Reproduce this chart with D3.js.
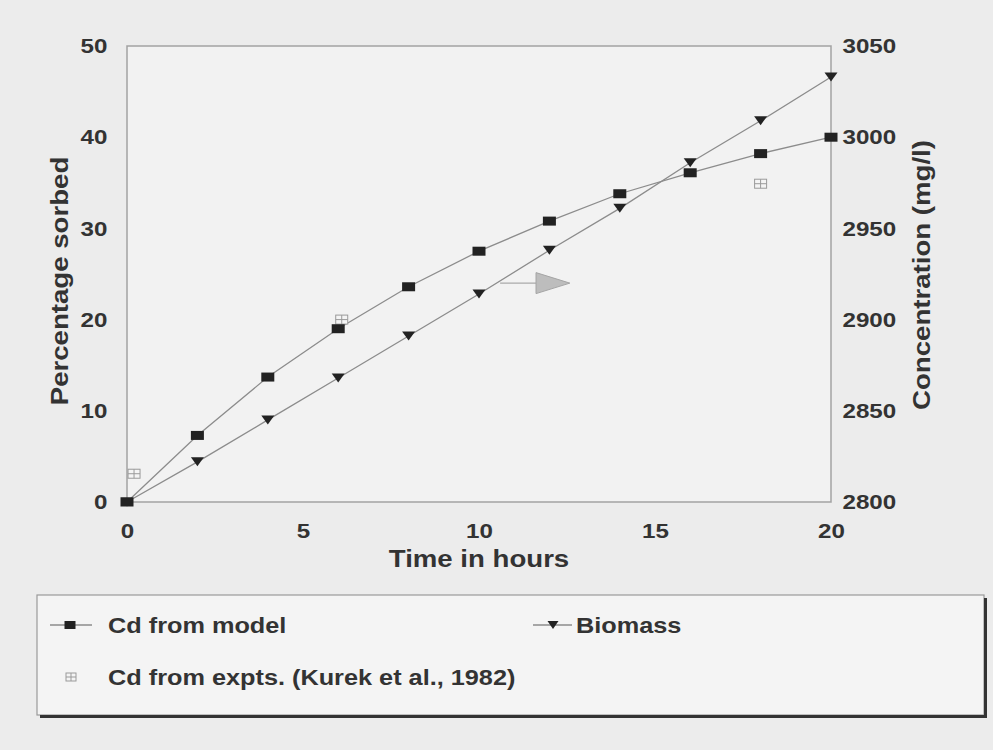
<!DOCTYPE html>
<html>
<head>
<meta charset="utf-8">
<script src="https://cdn.jsdelivr.net/npm/d3@7/dist/d3.min.js"></script>
<style>
  html, body { margin: 0; padding: 0; background: #ececec; }
  svg { display: block; }
  text { font-family: "Liberation Sans", Arial, sans-serif; font-weight: bold; fill: #333; }
</style>
</head>
<body>
<svg id="chart" width="993" height="750"></svg>
<script>
// ---- data ----
const hours = [0, 2, 4, 6, 8, 10, 12, 14, 16, 18, 20];
const cdModel = [0, 7.3, 13.7, 19.0, 23.6, 27.5, 30.8, 33.8, 36.1, 38.2, 40.0];      // % sorbed (left axis)
const biomass = [2800, 2822, 2845, 2868, 2891, 2914, 2938, 2961, 2986, 3009, 3033]; // mg/l (right axis)
const exptHours = [0.2, 6.1, 18.0];
const exptPct = [3.1, 20.0, 34.9];
const xTicks = [0, 5, 10, 15, 20];
const leftTicks = [0, 10, 20, 30, 40, 50];
const rightTicks = [2800, 2850, 2900, 2950, 3000, 3050];
const legendLabels = ["Cd from model", "Biomass", "Cd from expts. (Kurek et al., 1982)"];
const axisTitles = { x: "Time in hours", left: "Percentage sorbed", right: "Concentration (mg/l)" };

// ---- layout ----
const L = 127, R = 831, T = 46, B = 502;
const SX = 1.15; // horizontal stretch of the scanned lettering

const svg = d3.select("#chart");
const x = d3.scaleLinear().domain([0, 20]).range([L, R]);
const yL = d3.scaleLinear().domain([0, 50]).range([B, T]);
const yR = d3.scaleLinear().domain([2800, 3050]).range([B, T]);

// plot background + frame
svg.append("rect").attr("x", L).attr("y", T).attr("width", R - L).attr("height", B - T)
  .attr("fill", "#f2f2f2").attr("stroke", "#a2a2a2").attr("stroke-width", 1.5);

// axes
function styleAxis(g, fs) {
  g.select(".domain").remove();
  g.selectAll("text").attr("font-size", fs).attr("fill", "#333")
    .attr("font-family", "Liberation Sans, Arial, sans-serif").attr("font-weight", "bold")
    .attr("transform", `scale(${SX},1)`);
}
svg.append("g").attr("transform", `translate(${L},0)`)
  .call(d3.axisLeft(yL).tickValues(leftTicks).tickFormat(d3.format("d")).tickSize(0).tickPadding(17))
  .call(g => styleAxis(g, 21));
svg.append("g").attr("transform", `translate(${R},0)`)
  .call(d3.axisRight(yR).tickValues(rightTicks).tickFormat(d3.format("d")).tickSize(0).tickPadding(10))
  .call(g => styleAxis(g, 21));
svg.append("g").attr("transform", `translate(0,${B})`)
  .call(d3.axisBottom(x).tickValues(xTicks).tickFormat(d3.format("d")).tickSize(0).tickPadding(21))
  .call(g => styleAxis(g, 21));

// axis titles
function stretchedText(px, py, rot, str, fs, anchor) {
  svg.append("text").attr("transform", `translate(${px},${py}) rotate(${rot}) scale(${SX},1)`)
    .attr("text-anchor", anchor || "middle").attr("font-size", fs).text(str);
}
stretchedText((L + R) / 2, 567, 0, axisTitles.x, 24);
stretchedText(68, 281, -90, axisTitles.left, 24);
stretchedText(930, 275, -90, axisTitles.right, 24);

// lines
const lineL = d3.line().x((d, i) => x(hours[i])).y(d => yL(d));
const lineR = d3.line().x((d, i) => x(hours[i])).y(d => yR(d));
svg.append("path").datum(biomass).attr("d", lineR).attr("fill", "none")
  .attr("stroke", "#8c8c8c").attr("stroke-width", 1.3);
svg.append("path").datum(cdModel).attr("d", lineL).attr("fill", "none")
  .attr("stroke", "#8c8c8c").attr("stroke-width", 1.3);

// arrow annotation (points to the right-hand axis for Biomass)
const arrowY = 24.0, arrowStart = 10.6, arrowBase = 11.62, arrowTip = 12.58;
svg.append("line").attr("x1", x(arrowStart)).attr("x2", x(arrowBase))
  .attr("y1", yL(arrowY)).attr("y2", yL(arrowY)).attr("stroke", "#aaa").attr("stroke-width", 1.3);
svg.append("path")
  .attr("d", `M${x(arrowBase)},${yL(arrowY) - 10.5} L${x(arrowTip)},${yL(arrowY)} L${x(arrowBase)},${yL(arrowY) + 10.5} Z`)
  .attr("fill", "#bdbdbd").attr("stroke", "#a5a5a5").attr("stroke-width", 1);

// markers
function tri(g, cx, cy, w, h) {
  g.append("path").attr("d", `M${cx - w / 2},${cy - h / 2} L${cx + w / 2},${cy - h / 2} L${cx},${cy + h / 2} Z`)
    .attr("fill", "#222");
}
function sq(g, cx, cy, w, h) {
  g.append("rect").attr("x", cx - w / 2).attr("y", cy - h / 2).attr("width", w).attr("height", h).attr("fill", "#222");
}
function expt(g, cx, cy, w, h) {
  g.append("rect").attr("x", cx - w / 2).attr("y", cy - h / 2).attr("width", w).attr("height", h)
    .attr("fill", "#f4f4f4").attr("stroke", "#9a9a9a").attr("stroke-width", 1);
  g.append("line").attr("x1", cx).attr("x2", cx).attr("y1", cy - h / 2).attr("y2", cy + h / 2).attr("stroke", "#9a9a9a");
  g.append("line").attr("x1", cx - w / 2).attr("x2", cx + w / 2).attr("y1", cy).attr("y2", cy).attr("stroke", "#9a9a9a");
}
const mk = svg.append("g");
biomass.forEach((v, i) => tri(mk, x(hours[i]), yR(v), 13, 9));
exptHours.forEach((h, i) => expt(mk, x(h), yL(exptPct[i]), 12, 9));
cdModel.forEach((v, i) => sq(mk, x(hours[i]), yL(v), 13, 9));

// legend
const lg = svg.append("g");
lg.append("rect").attr("x", 37).attr("y", 595).attr("width", 947).attr("height", 120)
  .attr("fill", "#f4f4f4").attr("stroke", "#999").attr("stroke-width", 1.2);
lg.append("line").attr("x1", 985.5).attr("x2", 985.5).attr("y1", 598).attr("y2", 717.5).attr("stroke", "#333").attr("stroke-width", 3);
lg.append("line").attr("x1", 40).attr("x2", 987).attr("y1", 716.5).attr("y2", 716.5).attr("stroke", "#333").attr("stroke-width", 3);

const row1 = 625, row2 = 677;
lg.append("line").attr("x1", 50).attr("x2", 92).attr("y1", row1).attr("y2", row1).attr("stroke", "#8c8c8c").attr("stroke-width", 1.3);
sq(lg, 70, row1, 11, 8);
lg.append("text").attr("transform", `translate(108,${row1 + 8}) scale(${SX},1)`).attr("font-size", 22).text(legendLabels[0]);

lg.append("line").attr("x1", 533).attr("x2", 572).attr("y1", row1).attr("y2", row1).attr("stroke", "#8c8c8c").attr("stroke-width", 1.3);
tri(lg, 553, row1, 11, 8);
lg.append("text").attr("transform", `translate(576,${row1 + 8}) scale(${SX},1)`).attr("font-size", 22).text(legendLabels[1]);

expt(lg, 71, row2, 10, 8);
lg.append("text").attr("transform", `translate(108,${row2 + 8}) scale(${SX},1)`).attr("font-size", 22).text(legendLabels[2]);
</script>
</body>
</html>
